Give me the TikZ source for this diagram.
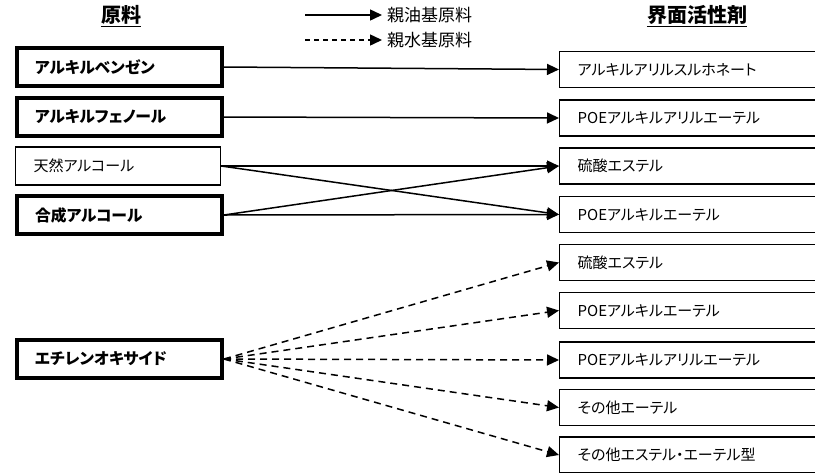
\documentclass[tikz,border=0pt]{standalone}
\usepackage{fontspec}
\setmainfont{Noto Sans CJK JP}[RawFeature=+palt]
\usetikzlibrary{arrows.meta}
\begin{document}
\begin{tikzpicture}[x=1pt,y=-1pt,
  srcbox/.style={draw=black, line width=1.3pt, rectangle, minimum width=205pt, minimum height=38pt,
    text width=169pt, inner xsep=18pt, inner ysep=0pt, align=left, anchor=west,
    font=\fontsize{15}{18}\selectfont},
  srcbold/.style={srcbox, line width=4pt, font=\fontsize{15.8}{18}\selectfont\bfseries},
  tgtbox/.style={draw=black, line width=1.3pt, rectangle, minimum width=271pt, minimum height=36pt,
    text width=235pt, inner xsep=18pt, inner ysep=0pt, align=left, anchor=west,
    font=\fontsize{15}{18}\selectfont},
  title/.style={font=\fontsize{20}{24}\selectfont\bfseries, inner sep=0pt},
  legtext/.style={font=\fontsize{17}{20}\selectfont, anchor=west, inner sep=5pt},
  oil/.style={line width=1.5pt, -{Triangle[length=12pt,width=11pt]}},
  water/.style={line width=1.5pt, dash pattern=on 7pt off 5pt, -{Triangle[length=12pt,width=11pt]}},
  legwater/.style={line width=1.5pt, dash pattern=on 5pt off 4pt, -{Triangle[length=12pt,width=11pt]}}
]
\useasboundingbox (0,0) rectangle (815,472);
\clip (0,0) rectangle (815,472);

% titles
\node[title] (h1) at (121,15) {原料};
\draw[line width=1.4pt] ([yshift=-2pt]h1.south west) -- ([yshift=-2pt]h1.south east);
\node[title] (h2) at (697,15) {界面活性剤};
\draw[line width=1.4pt] ([yshift=-2pt]h2.south west) -- ([yshift=-2pt]h2.south east);

% legend
\coordinate (la) at (305,15);
\node[legtext] (lt1) at (382,15) {親油基原料};
\draw[oil] (la) -- (lt1.west);
\coordinate (lb) at (305,40);
\node[legtext] (lt2) at (382,40) {親水基原料};
\draw[legwater] (lb) -- (lt2.west);

% sources
\node[srcbold] (s1) at (15,67) {アルキルベンゼン};
\node[srcbold] (s2) at (15,117) {アルキルフェノール};
\node[srcbox]  (s3) at (15,166) {天然アルコール};
\node[srcbold] (s4) at (15,215) {合成アルコール};
\node[srcbold] (s5) at (15,359) {エチレンオキサイド};

% targets
\node[tgtbox] (t1) at (559,69.5) {アルキルアリルスルホネート};
\node[tgtbox] (t2) at (559,118) {POEアルキルアリルエーテル};
\node[tgtbox] (t3) at (559,166) {硫酸エステル};
\node[tgtbox] (t4) at (559,214.5) {POEアルキルエーテル};
\node[tgtbox] (t5) at (559,262.5) {硫酸エステル};
\node[tgtbox] (t6) at (559,310.5) {POEアルキルエーテル};
\node[tgtbox] (t7) at (559,360) {POEアルキルアリルエーテル};
\node[tgtbox] (t8) at (559,407.5) {その他エーテル};
\node[tgtbox] (t9) at (559,455) {その他エステル・エーテル型};

% lipophilic connectors
\draw[oil] (s1.east) -- (t1.west);
\draw[oil] (s2.east) -- (t2.west);
\draw[oil] (s3.east) -- (t3.west);
\draw[oil] (s3.east) -- (t4.west);
\draw[oil] (s4.east) -- (t3.west);
\draw[oil] (s4.east) -- (t4.west);

% hydrophilic connectors
\foreach \t in {t5,t6,t7,t8,t9}
  \draw[water] (s5.east) -- (\t.west);
\end{tikzpicture}
\end{document}
